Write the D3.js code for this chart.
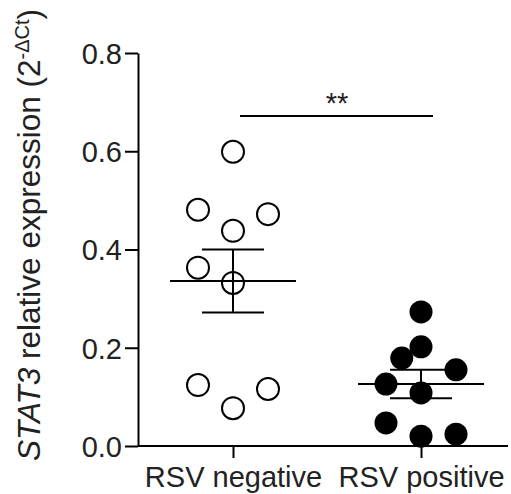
<!DOCTYPE html>
<html>
<head>
<meta charset="UTF-8">
<title>STAT3 relative expression</title>
<script src="https://d3js.org/d3.v7.min.js"></script>
<style>
  body { margin: 0; background: #fff; }
  svg { display: block; font-family: Arial, "Liberation Sans", sans-serif; }
  .axis text { font-size: 29px; fill: #222; }
  .axis path, .axis line { stroke: #000; stroke-width: 2px; }
</style>
</head>
<body>
<div id="chart"></div>
<script>
// groups
const categories = ["RSV negative", "RSV positive"];

// individual values, with their lane (horizontal jitter column)
const negativeValues = [0.599, 0.481, 0.472, 0.438, 0.363, 0.332, 0.124, 0.116, 0.077];
const negativeLanes  = [0, -1, 1, 0, -1, 0, -1, 1, 0];
const positiveValues = [0.273, 0.202, 0.179, 0.155, 0.126, 0.108, 0.047, 0.020, 0.024];
const positiveLanes  = [0, 0, -0.55, 1, -1, 0, -1, 0, 1];

// mean and SEM as drawn
const means = [0.336, 0.126];
const sems  = [0.064, 0.029];

const yTicks = [0.0, 0.2, 0.4, 0.6, 0.8];

const width = 511, height = 494;
const margin = { left: 138, right: 3, top: 53, bottom: 48 };

const svg = d3.select("#chart").append("svg")
  .attr("width", width)
  .attr("height", height);

const y = d3.scaleLinear()
  .domain([0, 0.8])
  .range([height - margin.bottom, margin.top]);

const x = d3.scalePoint()
  .domain(categories)
  .range([margin.left, width - margin.right])
  .padding(0.484)
  .align(0.522);

const laneStep = 35;

// y axis
svg.append("g")
  .attr("class", "axis")
  .attr("transform", `translate(${margin.left},0)`)
  .call(d3.axisLeft(y).tickValues(yTicks).tickFormat(d3.format(".1f")).tickSize(13).tickSizeOuter(0).tickPadding(3))
  .call(g => g.selectAll("text").attr("dy", "0.36em"));

// x axis
svg.append("g")
  .attr("class", "axis")
  .attr("transform", `translate(0,${y(0)})`)
  .call(d3.axisBottom(x).tickSize(12).tickSizeOuter(0).tickPadding(8))
  .call(g => g.select(".domain").attr("d", `M${margin.left},0H${width - margin.right}`));

// y label
svg.append("text")
  .attr("transform", `translate(40,235) rotate(-90)`)
  .attr("text-anchor", "middle")
  .style("font-size", "31.5px")
  .attr("fill", "#222")
  .call(t => {
    t.append("tspan").style("font-style", "italic").text("STAT3");
    t.append("tspan").text(" relative expression (2");
    t.append("tspan").attr("baseline-shift", "super").style("font-size", "20px").text("-ΔCt");
    t.append("tspan").text(")");
  });

const groups = [
  { cat: categories[0], values: negativeValues, lanes: negativeLanes, fill: "#fff" },
  { cat: categories[1], values: positiveValues, lanes: positiveLanes, fill: "#000" }
];

groups.forEach(g => {
  svg.append("g").selectAll("circle")
    .data(g.values)
    .join("circle")
    .attr("cx", (d, i) => x(g.cat) + g.lanes[i] * laneStep)
    .attr("cy", d => y(d))
    .attr("r", g.fill === "#fff" ? 11 : 11.5)
    .attr("fill", g.fill)
    .attr("stroke", "#000")
    .attr("stroke-width", g.fill === "#fff" ? 2 : 0);
});

// mean and SEM bars
const bars = svg.append("g").attr("stroke", "#000").attr("stroke-width", 2);
categories.forEach((c, i) => {
  const cx = x(c);
  bars.append("line").attr("x1", cx - 63).attr("x2", cx + 63).attr("y1", y(means[i])).attr("y2", y(means[i]));
  bars.append("line").attr("x1", cx).attr("x2", cx).attr("y1", y(means[i] - sems[i])).attr("y2", y(means[i] + sems[i]));
  [means[i] - sems[i], means[i] + sems[i]].forEach(v => {
    bars.append("line").attr("x1", cx - 31).attr("x2", cx + 31).attr("y1", y(v)).attr("y2", y(v));
  });
});

// significance
const sigLevel = 0.672;
svg.append("line")
  .attr("x1", x(categories[0]) + 7).attr("x2", x(categories[1]) + 12)
  .attr("y1", y(sigLevel)).attr("y2", y(sigLevel))
  .attr("stroke", "#000").attr("stroke-width", 2);
svg.append("text")
  .attr("x", (x(categories[0]) + x(categories[1])) / 2 + 10)
  .attr("y", y(sigLevel) - 3)
  .attr("text-anchor", "middle")
  .style("font-size", "29px")
  .attr("fill", "#222")
  .text("**");
</script>
</body>
</html>
